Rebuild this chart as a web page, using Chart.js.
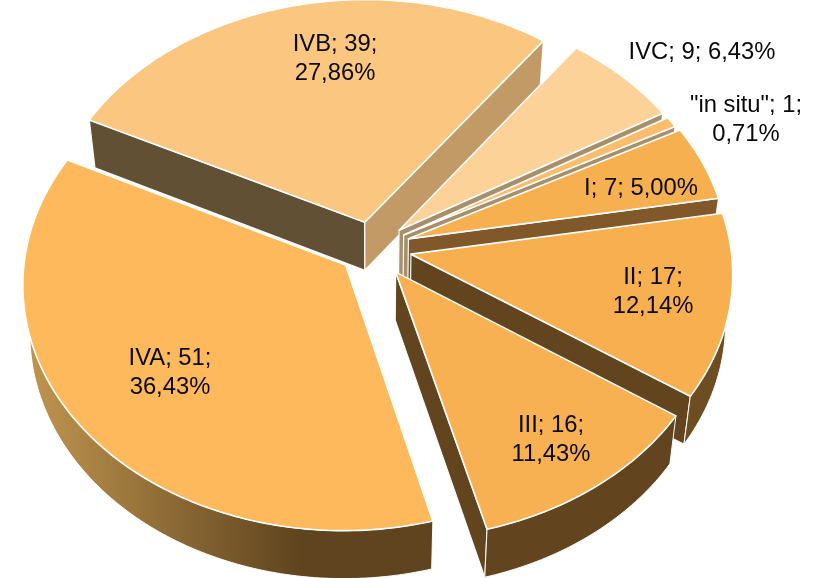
<!DOCTYPE html>
<html><head><meta charset="utf-8">
<style>html,body{margin:0;padding:0;background:#fff;overflow:hidden}canvas{display:block}</style>
<script src="https://cdn.jsdelivr.net/npm/chart.js@4"></script>
</head><body>
<canvas id="c" width="824" height="578"></canvas>
<script>
const categories = ['IVC','"in situ"','I','II','III','IVA','IVB'];
const counts = [9,1,7,17,16,51,39];
const percents = ['6,43%','0,71%','5,00%','12,14%','11,43%','36,43%','27,86%'];
const labelLines = [
  ['IVC; 9; 6,43%'],['"in situ"; 1;','0,71%'],['I; 7; 5,00%'],['II; 17;','12,14%'],
  ['III; 16;','11,43%'],['IVA; 51;','36,43%'],['IVB; 39;','27,86%']];
const labelAt = [[702,52],[746,105],[641,188],[653,277],[551,425],[170,358],[335,44]];
const explode = [30,30,32,33,33,30,30];
const topColors = ['#fcd299','#fbbd6c','#f7b04f','#f7af4f','#f8b152','#fdb95b','#fbc680'];
const startWall = ['#a88f6c','#a88f6c','#80582a','#62451f','#62451f','#62451f','#625034'];
const endWall   = ['#a88f6c','#a88f6c','#80582a','#62451f','#62451f','#62451f','#c19a66'];
const rimColors = ['#a88f6c','#a88f6c','#80582a','#6d4d22','#62451f',null,'#625034'];
const view = {cx:373,cy:248,rx:320,ry:243,k:0.075,depth:48,shrink:0.98};

function proj(u,v,low){
  const w=1-view.k*v; let X=view.rx*u/w, Y=view.ry*v/w;
  if(low){X*=view.shrink;Y+=view.depth;}
  return [view.cx+X,view.cy+Y];
}
function poly(ctx,pts,fill,stroke,lw){
  ctx.beginPath();pts.forEach((p,i)=>i?ctx.lineTo(p[0],p[1]):ctx.moveTo(p[0],p[1]));ctx.closePath();
  ctx.fillStyle=fill;ctx.fill();
  ctx.strokeStyle=stroke;ctx.lineWidth=lw;ctx.lineJoin='round';ctx.stroke();
}
const pie3d={id:'pie3d',
  beforeDatasetsDraw(chart){
    const ctx=chart.ctx,arcs=chart.getDatasetMeta(0).data;
    const order=[6,0,1,2,3,4,5];
    ctx.save();
    order.forEach(i=>{
      const el=arcs[i],R=el.outerRadius,e=el.options.offset/R,mid=(el.startAngle+el.endAngle)/2;
      const ou=Math.cos(mid)*e,ov=Math.sin(mid)*e;
      const uv=[];const n=Math.max(4,Math.ceil((el.endAngle-el.startAngle)*60));
      for(let s=0;s<=n;s++){const a=el.startAngle+(el.endAngle-el.startAngle)*s/n;uv.push([ou+Math.cos(a),ov+Math.sin(a)]);}
      const apex=[ou,ov],top=uv.map(p=>proj(p[0],p[1],false)),low=uv.map(p=>proj(p[0],p[1],true));
      const A=proj(apex[0],apex[1],false),B=proj(apex[0],apex[1],true);
      const W='rgba(255,255,255,0.95)';
      if(top[0][0]<A[0]) poly(ctx,[A,top[0],low[0],B],startWall[i],W,1.2);
      if(top[n][0]>A[0]) poly(ctx,[top[n],A,B,low[n]],endWall[i],W,1.2);
      const runT=[],runL=[];
      for(let s=0;s<n;s++){if(top[s+1][0]<top[s][0]){if(!runT.length){runT.push(top[s]);runL.push(low[s]);}runT.push(top[s+1]);runL.push(low[s+1]);}}
      if(runT.length){
        let fill=rimColors[i];
        if(!fill){const g=ctx.createLinearGradient(25,0,300,0);g.addColorStop(0,'#c1964f');g.addColorStop(1,'#5f441f');fill=g;}
        poly(ctx,runT.concat(runL.reverse()),fill,W,1);
      }
      poly(ctx,[A].concat(top),el.options.backgroundColor,'#ffffff',1.6);
    });
    ctx.restore();
    return false;
  },
  afterDraw(chart){
    const ctx=chart.ctx;ctx.save();
    ctx.font='23.8px "Liberation Sans", Arial, sans-serif';ctx.fillStyle='#0a0a0a';
    ctx.textAlign='center';ctx.textBaseline='middle';
    labelLines.forEach((ls,i)=>ls.forEach((t,j)=>ctx.fillText(t,labelAt[i][0],labelAt[i][1]+j*29)));
    ctx.restore();
  }
};
new Chart(document.getElementById('c'),{
  type:'pie',
  data:{labels:categories,datasets:[{data:counts,backgroundColor:topColors,offset:explode,borderWidth:0}]},
  options:{responsive:false,animation:false,rotation:36.5,
    layout:{padding:0},
    plugins:{legend:{display:false},tooltip:{enabled:false}}},
  plugins:[pie3d]
});
</script>
</body></html>
